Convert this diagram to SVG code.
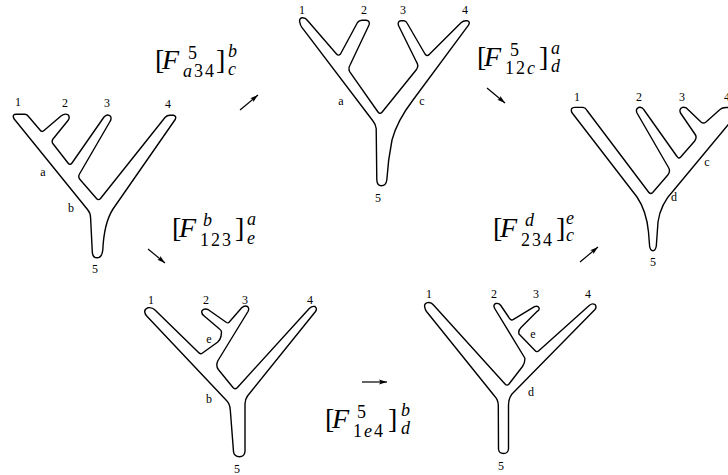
<svg xmlns="http://www.w3.org/2000/svg" width="728" height="475" viewBox="0 0 728 475">
<style>
.tree{fill:#fff;stroke:#000;stroke-width:1.4;stroke-linejoin:round}
.lbl{font-family:"Liberation Serif",serif;font-size:12px;text-anchor:middle;fill:#000}
.fm{font-family:"Liberation Serif",serif;font-size:28px;fill:#000}
.sc{font-size:18px}
.sub{font-size:18px;letter-spacing:2px}
.it{font-style:italic}
.arr{stroke:#000;stroke-width:1.2;fill:none;marker-end:url(#ah)}
</style>
<defs>
<marker id="ah" markerUnits="userSpaceOnUse" markerWidth="9" markerHeight="6" refX="8" refY="3" orient="auto">
<path d="M0,0.6 L8,3 L0,5.4 L1.5,3 Z" fill="#000"/>
</marker>
</defs>
<rect width="728" height="475" fill="#fff"/>

<g id="tree1">
<path class="tree" d="M13.5,117.5 Q12.5,114.3 16,114.3 L25,114.3 Q27.2,114.5 28.5,116.5 L40,130 Q41.8,132.6 44,130.5 L61,116 Q65,112.8 68.3,115 Q70.2,117.8 68,120.5 L53,139 Q51.3,141.5 53,143.8 L68,163 Q70,165.8 72,163 L104,117 Q107.5,113.3 110.5,116.3 Q111.8,119 110,121.5 L79.5,174 Q77.8,177 80,179.5 L96.5,198.5 Q98.5,200.8 100.5,198.5 L165,117.5 Q167,115.3 170,115.3 L173.5,115.3 Q176.8,116 175.2,119.5 L113,209 Q104,223 102.8,250 Q102,257.8 97,257.8 Q92.6,257.8 92.3,252 L90.6,218 Q90.6,213 87.5,209.5 L15,120 Q13.8,118.7 13.5,117.5 Z"/>
<text class="lbl" x="18" y="106">1</text>
<text class="lbl" x="65" y="107">2</text>
<text class="lbl" x="107" y="107">3</text>
<text class="lbl" x="168" y="108">4</text>
<text class="lbl" x="43" y="176">a</text>
<text class="lbl" x="71" y="212">b</text>
<text class="lbl" x="95" y="273">5</text>
</g>

<g id="tree2">
<path class="tree" d="M300,23 Q298.5,18.5 302,17.8 Q305.3,17.5 307.5,20.5 L336.5,54 Q338.4,56.3 340.5,54 L357.5,22.5 Q359,20.3 362,20.3 L366.5,20.3 Q370.3,21 369,25 L350.3,64.5 Q347.8,68.5 349.8,71.8 L378,112 Q380,114.8 382.2,112 L416.5,69.5 Q419,65.5 416.5,62 L398.5,25.5 Q397.3,21 401,20.8 L404,20.8 Q406.2,21.2 407,23 L425,54 Q427,56.8 429.2,54.5 L461,22.8 Q463,20.8 466,20.8 L467.5,20.8 Q470.5,21.8 468.5,25.2 L413,100 Q397,121 392,140 Q388,160 386.8,180 Q386,185.8 381.3,185.8 Q377.2,185.8 376.8,180 L376.2,128.5 Q375.8,124.5 373,121 L301.7,27.2 Q300.3,25.2 300,23 Z"/>
<text class="lbl" x="302" y="14">1</text>
<text class="lbl" x="364" y="14">2</text>
<text class="lbl" x="403" y="14">3</text>
<text class="lbl" x="465" y="14">4</text>
<text class="lbl" x="341" y="105">a</text>
<text class="lbl" x="422" y="105">c</text>
<text class="lbl" x="378" y="202">5</text>
</g>

<g id="tree3">
<path class="tree" d="M571.5,111.5 Q570.6,107.6 574.5,107.4 L583,107.4 Q585.6,107.8 587,110.5 L648.5,192 Q650.5,194.7 652.7,192.5 L667.8,175 Q670.8,171.3 668.5,167.5 L637,113 Q635.3,108.8 638.5,107.5 Q641.8,106.5 643.7,109.5 L677,156.5 Q678.6,159.2 680.7,157 L694.7,141 Q697.2,137.6 695.2,134.5 L680.5,113 Q678.8,108.8 682.5,107.4 Q686.3,106.8 688.2,109.8 L701,122 Q703.5,124.2 706,122 L720,109.5 Q722,107.5 726,107.5 L740,107.5 L740,111 L735,116.5 L673.5,190.5 Q660.5,204 658,222 L656.3,246 Q655.5,250.7 653,250.7 Q650.2,250.7 649.6,246 L648.5,232 Q646.5,211 637,197 L573,114 Q571.8,112.8 571.5,111.5 Z"/>
<text class="lbl" x="577" y="101">1</text>
<text class="lbl" x="639" y="101">2</text>
<text class="lbl" x="682" y="101">3</text>
<text class="lbl" x="727" y="101">4</text>
<text class="lbl" x="707" y="166">c</text>
<text class="lbl" x="674" y="201">d</text>
<text class="lbl" x="653" y="266">5</text>
</g>

<g id="tree4">
<path class="tree" d="M145,313 Q143.8,309.2 147.8,307.8 Q152,307 155,310 L198.3,352.3 Q200.3,354.7 202.5,353 L217.5,342.3 Q220.3,339.8 221,336.5 L221.5,332 Q221.5,330.3 219.5,329 L204.5,316.3 Q200.8,313.5 202,310.8 Q204,308.2 208,309.5 L226.5,322.5 Q228.3,323.5 229.5,321.8 L241.7,307.8 Q244.5,305.2 247.5,306.5 Q249.6,308.5 248,311.5 L218,360.5 Q215.5,365.5 218.3,369.5 L233,387.5 Q235,389.8 237.2,387.7 L309.5,308.3 Q312,305.8 315,306.5 Q317.5,308.5 315.5,311.5 L247.5,396 Q245,399.5 245,404 L245,451.5 Q244.5,456.7 239.5,456.7 Q234,456.5 233.5,451.5 L230.3,410 Q230,404 226.5,400.5 L146.7,316 Q145.3,314.6 145,313 Z"/>
<text class="lbl" x="151" y="304">1</text>
<text class="lbl" x="206" y="304">2</text>
<text class="lbl" x="245" y="304">3</text>
<text class="lbl" x="310" y="304">4</text>
<text class="lbl" x="209" y="343">e</text>
<text class="lbl" x="209" y="403">b</text>
<text class="lbl" x="237" y="473">5</text>
</g>

<g id="tree5">
<path class="tree" d="M425,308 Q423.6,303.8 427.2,302.6 Q431.2,301.8 433.5,305 L505,384 Q507,386.3 509,384 L522.5,366.5 Q525.3,362.5 524.8,358 L495,309 Q492.5,304.8 495.8,303.5 Q499,302.8 500.8,305.5 L509.8,318.8 Q511.7,321 513.5,319.3 L534.5,306.7 Q537.8,305.3 539,307.8 Q539.7,310.3 537,311.5 L521,327.5 Q518,330.5 519,334 L535,350.5 Q536.8,352.6 538.8,350.8 L589.5,305.3 Q592.3,303 595,304.5 Q597,306.8 595,309.5 L512,394 Q508.5,398.5 508.5,405 L508.5,449 Q508,453.5 503.5,453.5 Q498.8,453.5 498.5,449 L498.3,405 Q498,399.5 494.5,396 L426.5,311.5 Q425.2,309.8 425,308 Z"/>
<text class="lbl" x="429" y="298">1</text>
<text class="lbl" x="494" y="298">2</text>
<text class="lbl" x="536" y="298">3</text>
<text class="lbl" x="588" y="298">4</text>
<text class="lbl" x="533" y="338">e</text>
<text class="lbl" x="531" y="396">d</text>
<text class="lbl" x="501" y="470">5</text>
</g>

<g id="connectors">
<line class="arr" x1="240" y1="110" x2="258" y2="95"/>
<line class="arr" x1="487" y1="88" x2="505" y2="103"/>
<line class="arr" x1="148" y1="249" x2="165" y2="263"/>
<line class="arr" x1="580" y1="262" x2="598" y2="247"/>
<line class="arr" x1="362" y1="382" x2="387" y2="382"/>

<g id="move1" transform="translate(155,69)">
<text class="fm" x="0" y="0">[</text>
<text class="fm it" x="7" y="0">F</text>
<text class="fm sc" x="33" y="-10.5">5</text>
<text class="fm sub" x="28" y="8"><tspan class="it">a</tspan>34</text>
<text class="fm" x="61" y="0">]</text>
<text class="fm sc it" x="73" y="-12.5">b</text>
<text class="fm sc it" x="73" y="6">c</text>
</g>
<g id="move2" transform="translate(477,66)">
<text class="fm" x="0" y="0">[</text>
<text class="fm it" x="7" y="0">F</text>
<text class="fm sc" x="33" y="-10.5">5</text>
<text class="fm sub" x="28" y="8">12<tspan class="it">c</tspan></text>
<text class="fm" x="62" y="0">]</text>
<text class="fm sc it" x="74" y="-12.5">a</text>
<text class="fm sc it" x="74" y="6">d</text>
</g>
<g id="move3" transform="translate(172,237)">
<text class="fm" x="0" y="0">[</text>
<text class="fm it" x="7" y="0">F</text>
<text class="fm sc it" x="31" y="-11.5">b</text>
<text class="fm sub" x="28" y="9">123</text>
<text class="fm" x="63" y="0">]</text>
<text class="fm sc it" x="75" y="-12">a</text>
<text class="fm sc it" x="75" y="6.5">e</text>
</g>
<g id="move4" transform="translate(493,237)">
<text class="fm" x="0" y="0">[</text>
<text class="fm it" x="7" y="0">F</text>
<text class="fm sc it" x="32" y="-11.5">d</text>
<text class="fm sub" x="28" y="9">234</text>
<text class="fm" x="63" y="0">]</text>
<text class="fm sc it" x="73" y="-13">e</text>
<text class="fm sc it" x="73" y="4">c</text>
</g>
<g id="move5" transform="translate(325,428)">
<text class="fm" x="0" y="0">[</text>
<text class="fm it" x="7" y="0">F</text>
<text class="fm sc" x="32" y="-10.5">5</text>
<text class="fm sub" x="28" y="8.5">1<tspan class="it">e</tspan>4</text>
<text class="fm" x="63" y="0">]</text>
<text class="fm sc it" x="76" y="-12">b</text>
<text class="fm sc it" x="76" y="6">d</text>
</g>
</g>
</svg>
